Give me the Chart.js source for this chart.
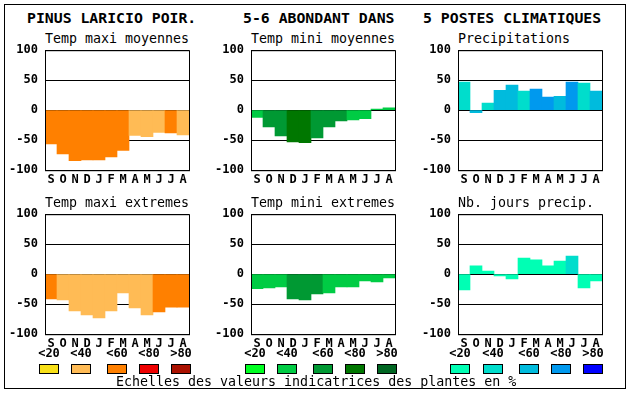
<!DOCTYPE html>
<html>
<head>
<meta charset="utf-8">
<script src="https://cdn.jsdelivr.net/npm/chart.js@4.4.0/dist/chart.umd.min.js"></script>
<style>
  body { margin: 0; background: #fff; }
  #page { position: relative; width: 630px; height: 394px; font-family: "DejaVu Sans Mono", monospace; }
  #page canvas { position: absolute; }
  .txt { position: absolute; white-space: pre; line-height: 1; color: #000; }
  .head { font-size: 14.8px; font-weight: bold; }
  .ttl { font-size: 13.3px; }
  .lab { font-size: 12px; font-weight: bold; width: 40px; text-align: center; }
  .sw { position: absolute; width: 18px; height: 8px; border: 1px solid #000; }
  #frame { position: absolute; left: 4px; top: 4px; width: 620px; height: 383px; border: 1px solid #000; }
</style>
</head>
<body>
<div id="page">
  <div id="frame"></div>
</div>
<script>
const mois = ['S','O','N','D','J','F','M','A','M','J','J','A'];

// classes: 0 <20, 1 <40, 2 <60, 3 <80, 4 >80
const classes = ['<20','<40','<60','<80','>80'];
const orange = ['#f8e018','#ffbb55','#ff8000','#ee0000','#aa1100'];
const vert = ['#00ff22','#00cc44','#009933','#007700','#006622'];
const bleu = ['#00ffb4','#00ddcc','#00bbdd','#0099ee','#0000ff'];

const maxiMoy = [-56,-73,-84,-83,-83,-78,-67,-42,-44,-37,-38,-41];
const maxiMoyCl = [2,2,2,2,2,2,2,1,1,1,2,1];
const miniMoy = [-12,-28,-43,-53,-54,-46,-28,-18,-16,-14,2,4];
const miniMoyCl = [1,2,2,3,3,2,2,2,1,1,1,1];
const precip = [47,-4,12,33,42,32,35,22,23,47,45,32];
const precipCl = [1,2,1,2,2,1,3,3,2,3,1,2];
const maxiExt = [-41,-43,-61,-68,-73,-61,-31,-56,-68,-63,-55,-55];
const maxiExtCl = [2,1,1,1,1,1,1,1,1,2,2,2];
const miniExt = [-24,-23,-21,-41,-43,-33,-31,-21,-21,-11,-13,-6];
const miniExtCl = [1,1,1,2,2,2,1,1,1,1,1,1];
const nbJours = [-26,14,5,-3,-8,27,24,14,22,30,-23,-11];
const nbJoursCl = [0,0,0,0,0,0,0,0,0,1,0,0];

const page = document.getElementById('page');

function texte(str, cls, x, y) {
  const d = document.createElement('div');
  d.className = 'txt ' + cls;
  d.textContent = str;
  d.style.left = x + 'px';
  d.style.top = y + 'px';
  page.appendChild(d);
  return d;
}

// cadre du graphique (cote droit)
const cadre = {
  id: 'cadre',
  afterDraw(chart) {
    const a = chart.chartArea, c = chart.ctx;
    c.save();
    c.strokeStyle = '#000';
    c.lineWidth = 1;
    c.strokeRect(a.left + 0.5, a.top + 0.5, a.right - a.left, a.bottom - a.top);
    c.restore();
  }
};

const tickFont = { family: 'DejaVu Sans Mono', size: 12, weight: 'bold' };

function panneau(titre, left, top, valeurs, cl, palette) {
  texte(titre, 'ttl', left, top - 18.5);
  const cv = document.createElement('canvas');
  cv.width = 200; cv.height = 175;
  page.appendChild(cv);
  const chart = new Chart(cv.getContext('2d'), {
    type: 'bar',
    data: {
      labels: mois,
      datasets: [{
        data: valeurs,
        backgroundColor: cl.map(k => palette[k]),
        borderWidth: 0,
        barPercentage: 1,
        categoryPercentage: 1
      }]
    },
    options: {
      responsive: false,
      maintainAspectRatio: false,
      animation: false,
      devicePixelRatio: 1,
      layout: { padding: { top: 8, right: 4, left: 0, bottom: 0 } },
      plugins: { legend: { display: false }, tooltip: { enabled: false } },
      scales: {
        x: {
          grid: { display: false, drawTicks: false },
          border: { display: true, color: '#000' },
          ticks: { color: '#000', font: tickFont, padding: 2, maxRotation: 0, autoSkip: false },
          afterFit: s => { s.height = 20; }
        },
        y: {
          min: -100, max: 100,
          z: 1,
          grid: { color: '#000', lineWidth: 1, drawTicks: false },
          border: { display: true, color: '#000' },
          ticks: { stepSize: 50, color: '#000', font: tickFont, padding: 7 },
          afterFit: s => { s.width = 45; }
        }
      }
    },
    plugins: [cadre]
  });
  // ajuster la zone de trace a 144 x 120
  let a = chart.chartArea;
  const pad = chart.options.layout.padding;
  pad.bottom += (a.bottom - a.top) - 120;
  pad.right += (a.right - a.left) - 144;
  chart.update();
  a = chart.chartArea;
  cv.style.left = (left - a.left) + 'px';
  cv.style.top = (top - a.top) + 'px';
}

texte('PINUS LARICIO POIR.', 'head', 27, 11);
texte('5-6 ABONDANT DANS', 'head', 243, 11);
texte('5 POSTES CLIMATIQUES', 'head', 423, 11);

panneau('Temp maxi moyennes', 45, 50, maxiMoy, maxiMoyCl, orange);
panneau('Temp mini moyennes', 251, 50, miniMoy, miniMoyCl, vert);
panneau('Precipitations', 458, 50, precip, precipCl, bleu);
panneau('Temp maxi extremes', 45, 214, maxiExt, maxiExtCl, orange);
panneau('Temp mini extremes', 251, 214, miniExt, miniExtCl, vert);
panneau('Nb. jours precip.', 458, 214, nbJours, nbJoursCl, bleu);

// echelles
const swX = [[39,71,107,139,171],[245,277,313,345,377],[450,483,519,551,583]];
const pals = [orange, vert, bleu];
swX.forEach((xs, g) => {
  xs.forEach((x, i) => {
    texte(classes[i], 'lab', x - 10, 347);
    const s = document.createElement('div');
    s.className = 'sw';
    s.style.left = x + 'px';
    s.style.top = '364px';
    s.style.background = pals[g][i];
    page.appendChild(s);
  });
});
texte('Echelles des valeurs indicatrices des plantes en %', 'ttl', 116, 375);
</script>
</body>
</html>
